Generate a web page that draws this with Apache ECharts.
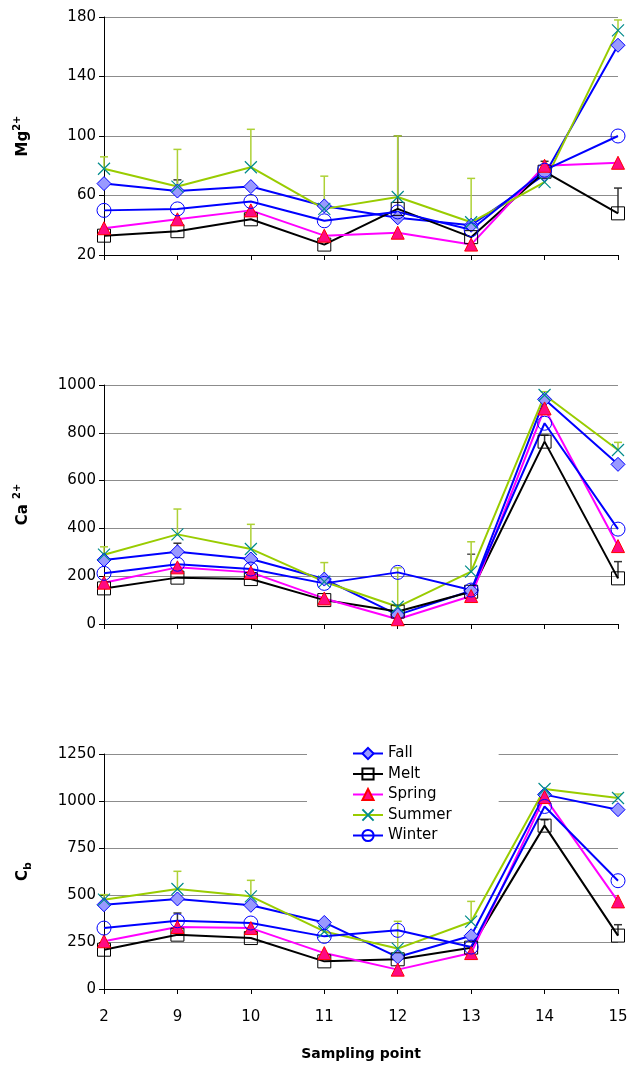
<!DOCTYPE html>
<html>
<head>
<meta charset="utf-8">
<script src="https://cdn.jsdelivr.net/npm/echarts@6/dist/echarts.min.js"></script>
<style>
html,body{margin:0;padding:0;background:#fff;}
#main{width:627px;height:1065px;}
</style>
</head>
<body>
<div id="main"></div>
<script>
// ---- data ----
const categories = ['2', '9', '10', '11', '12', '13', '14', '15'];
const seriesNames = ['Fall', 'Melt', 'Spring', 'Summer', 'Winter'];

// Mg2+
const mgFall   = [68, 63, 66, 53, 45, 40, 74, 161];
const mgMelt   = [33, 36, 44, 27, 51, 32, 76, 48];
const mgSpring = [38, 44, 50, 33, 35, 27, 80, 82];
const mgSummer = [78, 66, 79, 51, 59, 42, 69, 171];
const mgWinter = [50, 51, 56, 43, 49, 37, 77, 100];
const mgErrSummer = [86, 91, 104.5, 73, 100, 71.5, null, 178];
const mgErrFall   = [null, 70.5, null, null, null, null, null, null];
const mgErrMelt   = [null, null, null, null, 100, null, 83, 65];

// Ca2+
const caFall   = [268, 302, 272, 188, 38, 139, 940, 668];
const caMelt   = [149, 194, 188, 100, 52, 135, 763, 191];
const caSpring = [173, 237, 216, 107, 20, 117, 902, 326];
const caSummer = [290, 375, 314, 177, 72, 219, 958, 728];
const caWinter = [212, 250, 230, 170, 216, 142, 840, 397];
const caErrSummer = [323, 481, 417, 257, 235, 344, 972, 760];
const caErrFall   = [null, 338, null, null, null, null, null, null];
const caErrMelt   = [null, null, null, null, null, null, 790, 261];
const caErrSummerDark = [null, null, null, null, null, 292, null, null];

// Cb
const cbFall   = [448, 479, 445, 354, 170, 283, 1034, 954];
const cbMelt   = [209, 289, 271, 147, 158, 220, 869, 284];
const cbSpring = [254, 330, 324, 191, 103, 191, 1021, 466];
const cbSummer = [475, 532, 493, 306, 215, 358, 1064, 1016];
const cbWinter = [324, 363, 351, 280, 312, 223, 971, 576];
const cbErrSummer = [502, 626, 578, null, 360, 466, null, 1037];
const cbErrWinter = [null, 404, null, null, null, null, null, null];
const cbErrMelt   = [null, null, null, null, null, null, 900, 342];

// axis ticks
const mgAxis = {min: 20, max: 180, interval: 40};
const caAxis = {min: 0, max: 1000, interval: 200};
const cbAxis = {min: 0, max: 1250, interval: 250};

// ---- styles ----
const FONT = 'DejaVu Sans';
const styles = {
  Fall:   {line: '#0000ff', symbol: 'diamond', size: 14, item: {color: '#9999ff', borderColor: '#0000ff', borderWidth: 1}},
  Melt:   {line: '#000000', symbol: 'rect', size: 13, item: {color: 'rgba(0,0,0,0)', borderColor: '#000000', borderWidth: 1}},
  Spring: {line: '#ff00ff', symbol: 'triangle', size: 13, item: {color: '#ff0a82', borderColor: '#ff0000', borderWidth: 1}},
  Summer: {line: '#99cc00', symbol: 'path://M0 0L10 10M10 0L0 10', size: 12, item: {color: 'rgba(0,0,0,0)', borderColor: '#008b8b', borderWidth: 1.2}},
  Winter: {line: '#0000ff', symbol: 'circle', size: 14, item: {color: 'rgba(0,0,0,0)', borderColor: '#0000ff', borderWidth: 1}}
};

const charts = [
  {axis: mgAxis, data: {Fall: mgFall, Melt: mgMelt, Spring: mgSpring, Summer: mgSummer, Winter: mgWinter},
   errs: [['Fall', mgErrFall, '#333333'], ['Melt', mgErrMelt, '#333333'], ['Summer', mgErrSummer, '#add135']],
   name: '{b|Mg}{sup|2+}'},
  {axis: caAxis, data: {Fall: caFall, Melt: caMelt, Spring: caSpring, Summer: caSummer, Winter: caWinter},
   errs: [['Fall', caErrFall, '#333333'], ['Melt', caErrMelt, '#333333'], ['Summer', caErrSummerDark, '#555555'], ['Summer', caErrSummer, '#add135']],
   name: '{b|Ca }{sup|2+}'},
  {axis: cbAxis, data: {Fall: cbFall, Melt: cbMelt, Spring: cbSpring, Summer: cbSummer, Winter: cbWinter},
   errs: [['Winter', cbErrWinter, '#333333'], ['Melt', cbErrMelt, '#333333'], ['Summer', cbErrSummer, '#add135']],
   name: '{b|C}{sub|b}'}
];

const gridPos = [
  {left: 104, right: 9, top: 17, height: 238, outerBoundsMode: 'none', containLabel: false},
  {left: 104, right: 9, top: 385, height: 239, outerBoundsMode: 'none', containLabel: false},
  {left: 104, right: 9, top: 754, height: 235, outerBoundsMode: 'none', containLabel: false}
];

function renderErr(params, api) {
  const i = api.value(0);
  const p0 = api.coord([i, api.value(1)]);
  const p1 = api.coord([i, api.value(2)]);
  const style = {stroke: api.visual('color'), lineWidth: 1.5};
  return {
    type: 'group',
    children: [
      {type: 'line', shape: {x1: p0[0], y1: p0[1], x2: p1[0], y2: p1[1]}, style: style},
      {type: 'line', shape: {x1: p1[0] - 4, y1: p1[1], x2: p1[0] + 4, y2: p1[1]}, style: style}
    ]
  };
}

const xAxes = [], yAxes = [], series = [];
charts.forEach(function (c, k) {
  const last = k === 2;
  xAxes.push({
    type: 'category', gridIndex: k, data: categories, boundaryGap: false,
    axisLine: {show: true, lineStyle: {color: '#000', width: 1}},
    axisTick: {show: true, length: 5, lineStyle: {color: '#000'}},
    axisLabel: {show: last, fontFamily: FONT, fontSize: 15, color: '#000', margin: 21},
    splitLine: {show: false},
    name: last ? 'Sampling point' : '',
    nameLocation: 'middle', nameGap: 58,
    nameTextStyle: {fontFamily: FONT, fontSize: 14, fontWeight: 'bold', color: '#000'}
  });
  yAxes.push({
    type: 'value', gridIndex: k, min: c.axis.min, max: c.axis.max, interval: c.axis.interval,
    axisLine: {show: true, lineStyle: {color: '#000', width: 1}},
    axisTick: {show: true, length: 5, lineStyle: {color: '#000'}},
    axisLabel: {fontFamily: FONT, fontSize: 15, color: '#000', margin: 8,
      formatter: function (v) { return String(v); }},
    splitLine: {show: true, lineStyle: {color: '#8c8c8c', width: 1}},
    name: c.name, nameLocation: 'middle', nameRotate: 90, nameGap: 70,
    nameTextStyle: {
      color: '#000', fontFamily: FONT,
      rich: {
        b: {fontFamily: FONT, fontSize: 15, fontWeight: 'bold', color: '#000', lineHeight: 22},
        sup: {fontFamily: FONT, fontSize: 10, fontWeight: 'bold', color: '#000', verticalAlign: 'top', lineHeight: 12},
        sub: {fontFamily: FONT, fontSize: 11, fontWeight: 'bold', color: '#000', verticalAlign: 'bottom', lineHeight: 13}
      }
    }
  });
  c.errs.forEach(function (e, j) {
    const base = c.data[e[0]];
    const d = [];
    e[1].forEach(function (t, i) { if (t != null) d.push([i, base[i], t]); });
    series.push({
      type: 'custom', name: 'err_' + k + '_' + j, xAxisIndex: k, yAxisIndex: k,
      renderItem: renderErr, data: d, itemStyle: {color: e[2]}, z: 1, silent: true,
      encode: {x: 0, y: [1, 2]}
    });
  });
  seriesNames.forEach(function (n) {
    const s = styles[n];
    series.push({
      type: 'line', name: n, xAxisIndex: k, yAxisIndex: k, data: c.data[n],
      symbol: s.symbol, symbolSize: s.size, showAllSymbol: true,
      lineStyle: {color: s.line, width: 2},
      itemStyle: s.item, z: 2
    });
  });
});

const chart = echarts.init(document.getElementById('main'));
chart.setOption({
  animation: false,
  backgroundColor: '#fff',
  grid: gridPos,
  xAxis: xAxes,
  yAxis: yAxes,
  legend: {
    data: seriesNames, orient: 'vertical', left: 307, top: 744,
    itemWidth: 30, itemHeight: 14, itemGap: 5.5,
    padding: [2, 47, 2, 45], backgroundColor: '#fff',
    textStyle: {fontFamily: FONT, fontSize: 15, color: '#000', lineHeight: 15},
    selectedMode: false
  },
  series: series
});
</script>
</body>
</html>
